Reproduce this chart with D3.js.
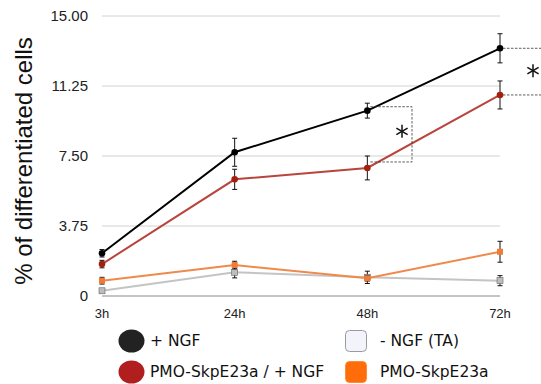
<!DOCTYPE html>
<html>
<head>
<meta charset="utf-8">
<script src="https://cdn.jsdelivr.net/npm/d3@7"></script>
<style>
  body { margin: 0; background: #fff; }
  svg { display: block; }
</style>
</head>
<body>
<div id="chart"></div>
<script>
// data
const timepoints = ['3h', '24h', '48h', '72h'];
const yTicks = [0, 3.75, 7.5, 11.25, 15];

const ngf = [2.29, 7.70, 9.93, 13.27];
const ngfErr = [0.2, 0.75, 0.4, 0.78];
const pmoNgf = [1.71, 6.25, 6.86, 10.77];
const pmoNgfErr = [0.2, 0.54, 0.64, 0.75];
const pmo = [0.82, 1.66, 0.95, 2.37];
const pmoErr = [0.18, 0.2, 0.15, 0.56];
const noNgf = [0.28, 1.27, 1.0, 0.82];
const noNgfErr = [0.1, 0.3, 0.33, 0.27];

const width = 541, height = 384;
const margin = {top: 16, right: 41, bottom: 88, left: 102};

const svg = d3.select('#chart').append('svg')
  .attr('width', width)
  .attr('height', height);

const x = d3.scalePoint()
  .domain(timepoints)
  .range([margin.left, width - margin.right]);

const y = d3.scaleLinear()
  .domain([0, 15])
  .range([height - margin.bottom, margin.top]);

// grid
svg.append('g')
  .selectAll('line')
  .data(yTicks.slice(1))
  .enter().append('line')
  .attr('x1', margin.left)
  .attr('x2', width - margin.right)
  .attr('y1', d => y(d))
  .attr('y2', d => y(d))
  .attr('stroke', '#d2d2d2')
  .attr('stroke-width', 1);

// baseline
svg.append('line')
  .attr('x1', margin.left)
  .attr('x2', width - margin.right)
  .attr('y1', y(0))
  .attr('y2', y(0))
  .attr('stroke', '#8a8a8a')
  .attr('stroke-width', 1);

// y tick labels
svg.append('g')
  .selectAll('text')
  .data(yTicks)
  .enter().append('text')
  .attr('x', 88)
  .attr('y', d => y(d))
  .attr('dy', '0.36em')
  .attr('text-anchor', 'end')
  .attr('font-family', 'Liberation Sans, Arial, sans-serif')
  .attr('font-size', 15)
  .attr('fill', '#222')
  .text(d => d === 0 ? '0' : d.toFixed(2));

// x tick labels
svg.append('g')
  .selectAll('text')
  .data(timepoints)
  .enter().append('text')
  .attr('x', d => x(d))
  .attr('y', y(0) + 22)
  .attr('text-anchor', 'middle')
  .attr('font-family', 'Liberation Sans, Arial, sans-serif')
  .attr('font-size', 13)
  .attr('fill', '#222')
  .text(d => d);

// y title
svg.append('text')
  .attr('transform', 'translate(32,' + ((y(0) + y(15)) / 2 + 5) + ') rotate(-90)')
  .attr('text-anchor', 'middle')
  .attr('font-family', 'Liberation Sans, Arial, sans-serif')
  .attr('font-size', 24)
  .attr('fill', '#111')
  .text('% of differentiated cells');

const series = [
  {vals: noNgf, err: noNgfErr, line: '#c4c4c4', mark: '#bdbdbd', edge: '#666', shape: 'square'},
  {vals: pmo, err: pmoErr, line: '#ef8a4c', mark: '#f07b35', edge: 'none', shape: 'square'},
  {vals: pmoNgf, err: pmoNgfErr, line: '#b8453d', mark: '#a3200f', shape: 'circle'},
  {vals: ngf, err: ngfErr, line: '#000', mark: '#000', shape: 'circle'}
];

const line = d3.line()
  .x((d, i) => x(timepoints[i]))
  .y(d => y(d));

series.forEach(s => {
  const g = svg.append('g');
  g.append('path')
    .attr('d', line(s.vals))
    .attr('fill', 'none')
    .attr('stroke', s.line)
    .attr('stroke-width', 2);

  const eb = g.selectAll('.eb')
    .data(s.vals)
    .enter().append('g');
  eb.append('line')
    .attr('x1', (d, i) => x(timepoints[i]))
    .attr('x2', (d, i) => x(timepoints[i]))
    .attr('y1', (d, i) => y(d + s.err[i]))
    .attr('y2', (d, i) => y(d - s.err[i]))
    .attr('stroke', '#111')
    .attr('stroke-width', 1);
  [1, -1].forEach(sign => {
    eb.append('line')
      .attr('x1', (d, i) => x(timepoints[i]) - 2.5)
      .attr('x2', (d, i) => x(timepoints[i]) + 2.5)
      .attr('y1', (d, i) => y(d + sign * s.err[i]))
      .attr('y2', (d, i) => y(d + sign * s.err[i]))
      .attr('stroke', '#111')
      .attr('stroke-width', 1);
  });

  if (s.shape === 'circle') {
    g.selectAll('.pt')
      .data(s.vals)
      .enter().append('circle')
      .attr('cx', (d, i) => x(timepoints[i]))
      .attr('cy', d => y(d))
      .attr('r', 3.3)
      .attr('fill', s.mark);
  } else {
    g.selectAll('.pt')
      .data(s.vals)
      .enter().append('rect')
      .attr('x', (d, i) => x(timepoints[i]) - 3)
      .attr('y', d => y(d) - 3)
      .attr('width', 6)
      .attr('height', 6)
      .attr('fill', s.mark)
      .attr('stroke', s.edge)
      .attr('stroke-width', 0.6);
  }
});

// significance brackets
const sig = svg.append('g')
  .attr('fill', 'none')
  .attr('stroke', '#333')
  .attr('stroke-width', 0.8)
  .attr('stroke-dasharray', '2.5,1.5');

const bx = x('48h'), bTop = y(10.14), bBot = y(7.18);
sig.append('path')
  .attr('d', 'M' + (bx + 3) + ',' + bTop + 'H412V' + bBot + 'H' + (bx + 3));
sig.append('line')
  .attr('x1', x('72h') + 3).attr('x2', width)
  .attr('y1', y(ngf[3])).attr('y2', y(ngf[3]));
sig.append('line')
  .attr('x1', x('72h') + 3).attr('x2', width)
  .attr('y1', y(pmoNgf[3])).attr('y2', y(pmoNgf[3]));

// asterisks (drawn as three strokes, thin like the original)
function asterisk(cx, cy, r) {
  const a = svg.append('g')
    .attr('transform', 'translate(' + cx + ',' + cy + ')')
    .attr('stroke', '#111')
    .attr('stroke-width', 1.5);
  [90, 30, -30].forEach(deg => {
    const t = deg * Math.PI / 180;
    a.append('line')
      .attr('x1', -r * Math.cos(t)).attr('y1', -r * Math.sin(t))
      .attr('x2', r * Math.cos(t)).attr('y2', r * Math.sin(t));
  });
}
asterisk(402, (bTop + bBot) / 2 - 3, 6.5);
asterisk(533, (y(ngf[3]) + y(pmoNgf[3])) / 2 - 1, 6.5);

// legend
const legendFont = 'DejaVu Sans, Verdana, sans-serif';
const leg = svg.append('g');
const legendItems = [
  {label: '+ NGF', kind: 'dot', color: '#222', cx: 131.5, cy: 341, tx: 150},
  {label: 'PMO-SkpE23a / + NGF', kind: 'dot', color: '#b01e1e', cx: 131.5, cy: 372, tx: 150},
  {label: '- NGF (TA)', kind: 'box', color: '#f3f3fb', stroke: '#9a9a9a', cx: 356, cy: 341, tx: 380},
  {label: 'PMO-SkpE23a', kind: 'box', color: '#ff6c0a', stroke: '#ff8a3a', cx: 356, cy: 372, tx: 380}
];
legendItems.forEach(d => {
  if (d.kind === 'dot') {
    leg.append('ellipse')
      .attr('cx', d.cx).attr('cy', d.cy)
      .attr('rx', 13).attr('ry', 11.5)
      .attr('fill', d.color);
  } else {
    leg.append('rect')
      .attr('x', d.cx - 10.5).attr('y', d.cy - 10.5)
      .attr('width', 21).attr('height', 21)
      .attr('rx', 4)
      .attr('fill', d.color)
      .attr('stroke', d.stroke)
      .attr('stroke-width', 1);
  }
  leg.append('text')
    .attr('x', d.tx).attr('y', d.cy)
    .attr('dy', '0.35em')
    .attr('font-family', legendFont)
    .attr('font-size', 15.5)
    .attr('fill', '#111')
    .text(d.label);
});
</script>
</body>
</html>
